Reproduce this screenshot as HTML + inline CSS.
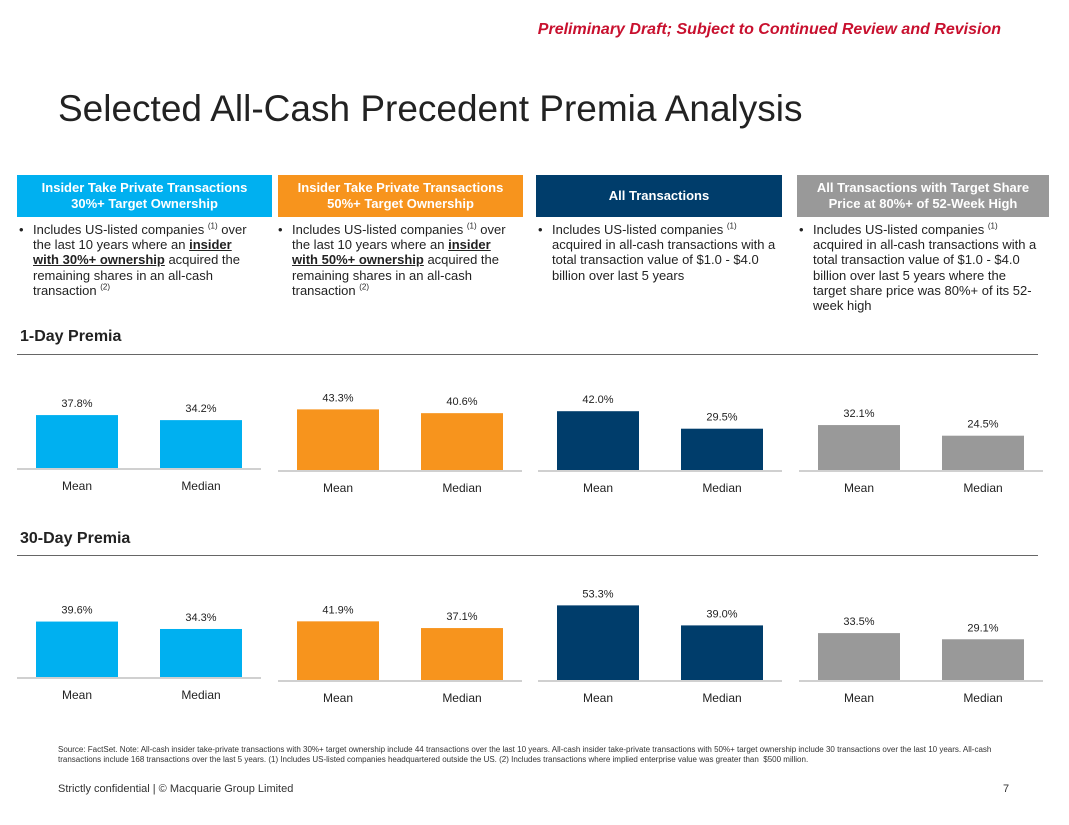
<!DOCTYPE html>
<html><head><meta charset="utf-8"><style>
body{margin:0;width:1069px;height:825px;background:#fff;font-family:"Liberation Sans",sans-serif;position:relative;overflow:hidden;color:#222}
.abs{position:absolute}
.hdr{position:absolute;top:175px;height:42px;color:#fff;font-weight:bold;font-size:13px;text-align:center;display:flex;align-items:center;justify-content:center;line-height:16px}
.desc{position:absolute;top:222px;font-size:13px;line-height:15.2px;padding-left:14px;white-space:nowrap}
.desc .bul{position:absolute;left:0;top:0}
.desc sup{font-size:8px;line-height:0}
.desc b{text-decoration:underline}
</style></head><body>
<div class="abs" style="right:68px;top:21px;color:#c8102e;font-weight:bold;font-style:italic;font-size:16px">Preliminary Draft; Subject to Continued Review and Revision</div>
<div class="abs" style="left:58px;top:88px;font-size:37px;color:#222">Selected All-Cash Precedent Premia Analysis</div>

<div class="hdr" style="left:17px;width:255px;background:#00b0f0">Insider Take Private Transactions<br>30%+ Target Ownership</div>
<div class="hdr" style="left:278px;width:245px;background:#f7941d">Insider Take Private Transactions<br>50%+ Target Ownership</div>
<div class="hdr" style="left:536px;width:246px;background:#003d6b">All Transactions</div>
<div class="hdr" style="left:797px;width:252px;background:#999">All Transactions with Target Share<br>Price at 80%+ of 52-Week High</div>

<div class="desc" style="left:19px"><span class="bul">•</span>Includes US-listed companies <sup>(1)</sup> over<br>the last 10 years where an <b>insider</b><br><b>with 30%+ ownership</b> acquired the<br>remaining shares in an all-cash<br>transaction <sup>(2)</sup></div>
<div class="desc" style="left:278px"><span class="bul">•</span>Includes US-listed companies <sup>(1)</sup> over<br>the last 10 years where an <b>insider</b><br><b>with 50%+ ownership</b> acquired the<br>remaining shares in an all-cash<br>transaction <sup>(2)</sup></div>
<div class="desc" style="left:538px"><span class="bul">•</span>Includes US-listed companies <sup>(1)</sup><br>acquired in all-cash transactions with a<br>total transaction value of $1.0 - $4.0<br>billion over last 5 years</div>
<div class="desc" style="left:799px"><span class="bul">•</span>Includes US-listed companies <sup>(1)</sup><br>acquired in all-cash transactions with a<br>total transaction value of $1.0 - $4.0<br>billion over last 5 years where the<br>target share price was 80%+ of its 52-<br>week high</div>

<div class="abs" style="left:20px;top:328px;font-size:16px;font-weight:bold">1-Day Premia</div>
<div class="abs" style="left:17px;top:354px;width:1021px;height:1px;background:#666"></div>
<div class="abs" style="left:20px;top:530px;font-size:16px;font-weight:bold">30-Day Premia</div>
<div class="abs" style="left:17px;top:555px;width:1021px;height:1px;background:#666"></div>

<svg id="chart" class="abs" style="left:0;top:0" width="1069" height="825"></svg>

<div class="abs" style="left:58px;top:745px;width:960px;font-size:8px;line-height:10px;color:#333">Source: FactSet. Note: All-cash insider take-private transactions with 30%+ target ownership include 44 transactions over the last 10 years. All-cash insider take-private transactions with 50%+ target ownership include 30 transactions over the last 10 years. All-cash transactions include 168 transactions over the last 5 years. (1) Includes US-listed companies headquartered outside the US. (2) Includes transactions where implied enterprise value was greater than &nbsp;$500 million.</div>
<div class="abs" style="left:58px;top:783px;font-size:11px;color:#333">Strictly confidential | © Macquarie Group Limited</div>
<div class="abs" style="left:1003px;top:783px;font-size:11px;color:#333">7</div>

<script>
const categories = ["Mean", "Median"];
const groups = ["insider-30", "insider-50", "all", "80pct"];
const oneDayMean = [37.8, 43.3, 42.0, 32.1];
const oneDayMedian = [34.2, 40.6, 29.5, 24.5];
const thirtyDayMean = [39.6, 41.9, 53.3, 33.5];
const thirtyDayMedian = [34.3, 37.1, 39.0, 29.1];
const colors = ["#00b0f0", "#f7941d", "#003d6b", "#999999"];

const svg = document.getElementById('chart');
const NS = 'http://www.w3.org/2000/svg';
const panelX = [17, 278, 538, 799];
const pxPerPct = 1.4;
function yScale(v, base){ return base - v * pxPerPct; }
function mk(tag, attrs){ const e=document.createElementNS(NS,tag); for(const k in attrs) e.setAttribute(k,attrs[k]); svg.appendChild(e); return e; }

function drawRow(prefix, means, medians, baseFirst, baseOther){
  groups.forEach((g, i) => {
    const base = i === 0 ? baseFirst : baseOther;
    const px = panelX[i];
    const ln = mk('line', {x1:px, x2:px+244, y1:base+1, y2:base+1, stroke:'#d0d0d0', 'stroke-width':2});
    
    
    [means[i], medians[i]].forEach((v, j) => {
      const bx = px + 19 + j * 124;
      const y = yScale(v, base);
      const r = mk('rect', {x:bx, y:y, width:82, height:base - y, fill:colors[i]});
      
      
      const t = mk('text', {x:bx+41, y:y-8, 'text-anchor':'middle', 'font-size':11, fill:'#222', 'font-family':'Liberation Sans Narrow, Liberation Sans, sans-serif'});
      t.textContent = v.toFixed(1) + '%';
      
      
      const c = mk('text', {x:bx+41, y:base+22, 'text-anchor':'middle', 'font-size':12, fill:'#222', 'font-family':'Liberation Sans Narrow, Liberation Sans, sans-serif'});
      c.textContent = categories[j];
      
      
    });
  });
}
drawRow('one-day', oneDayMean, oneDayMedian, 468, 470);
drawRow('thirty-day', thirtyDayMean, thirtyDayMedian, 677, 680);
</script>
</body></html>
